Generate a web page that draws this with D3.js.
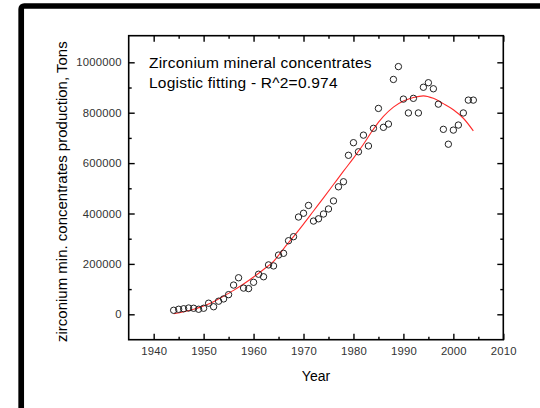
<!DOCTYPE html>
<html>
<head>
<meta charset="utf-8">
<script src="https://cdn.jsdelivr.net/npm/d3@7"></script>
<style>
  html, body { margin: 0; padding: 0; background: #fff; }
  svg { display: block; }
  text { font-family: Arial, "Liberation Sans", sans-serif; }
</style>
</head>
<body>
<svg id="chart" width="540" height="408"></svg>
<script>
// ---- data ----
const years = [1944,1945,1946,1947,1948,1949,1950,1951,1952,1953,1954,1955,1956,1957,1958,1959,1960,1961,1962,1963,1964,
  1965,1966,1967,1968,1969,1970,1971,1972,1973,1974,1975,1976,1977,1978,1979,1980,1981,1982,1983,1984,
  1985,1986,1987,1988,1989,1990,1991,1992,1993,1994,1995,1996,1997,1998,1999,2000,2001,2002,2003,2004];
const production = [16000,20000,22000,25000,24000,20000,24000,44000,30000,52000,61000,78000,116000,145000,104000,102000,127000,159000,149000,196000,192000,
  235000,242000,292000,308000,386000,401000,432000,370000,379000,398000,418000,450000,506000,526000,631000,681000,645000,711000,668000,738000,
  817000,742000,755000,932000,983000,854000,799000,857000,799000,901000,919000,895000,834000,734000,675000,731000,751000,799000,850000,850000];
const fitYears = [1944,1946,1948,1950,1952,1954,1956,1958,1960,1962,1964,1966,1968,1970,1972,1974,1976,1978,1980,1982,1984,1986,1988,1990,1992,1994,1996,1998,2000,2002,2004];
const fitValues = [2000,10000,20000,33000,50000,72000,95000,120000,148000,178000,210000,260000,308000,358000,410000,462000,515000,568000,620000,675000,735000,785000,822000,846000,860000,867000,857000,836000,812000,778000,728000];
const xMajorTicks = [1940,1950,1960,1970,1980,1990,2000,2010];
const xMinorTicks = [1945,1955,1965,1975,1985,1995,2005];
const yMajorTicks = [0,200000,400000,600000,800000,1000000];
const yMinorTicks = [100000,300000,500000,700000,900000];
const titleLines = ["Zirconium mineral concentrates", "Logistic fitting - R^2=0.974"];
const xTitle = "Year";
const yTitle = "zirconium min. concentrates production, Tons";

// ---- layout ----
const svg = d3.select("#chart");
const L = 128.7, R = 503.3, T = 35.7, B = 339.7;
const x = d3.scaleLinear().domain([1935, 2010]).range([L, R]);
const y = d3.scaleLinear().domain([-100800, 1105600]).range([B, T]);

// outer frame
svg.append("rect")
  .attr("x", 21.2).attr("y", 6).attr("width", 700).attr("height", 600)
  .attr("rx", 3)
  .attr("fill", "none").attr("stroke", "#000").attr("stroke-width", 5.7);

function styleAxis(g, fs) {
  g.select(".domain").remove();
  g.selectAll(".tick line").attr("stroke", "#000").attr("stroke-width", 1.4);
  g.selectAll(".tick text").attr("fill", "#333").style("font-size", fs + "px")
    .style("letter-spacing", "0.2px")
    .style("font-family", "Arial, 'Liberation Sans', sans-serif");
}

// bottom axis (major with labels, minor without)
const gxb = svg.append("g").attr("transform", `translate(0,${B})`)
  .call(d3.axisBottom(x).tickValues(xMajorTicks).tickSize(-6).tickPadding(7.5).tickFormat(d3.format("d")));
styleAxis(gxb, 11.3);
const gxbm = svg.append("g").attr("transform", `translate(0,${B})`)
  .call(d3.axisBottom(x).tickValues(xMinorTicks).tickSize(-3).tickFormat(""));
styleAxis(gxbm, 11);
// top axis
const gxt = svg.append("g").attr("transform", `translate(0,${T})`)
  .call(d3.axisTop(x).tickValues(xMajorTicks).tickSize(-6).tickFormat(""));
styleAxis(gxt, 11);
const gxtm = svg.append("g").attr("transform", `translate(0,${T})`)
  .call(d3.axisTop(x).tickValues(xMinorTicks).tickSize(-3).tickFormat(""));
styleAxis(gxtm, 11);
// left axis
const gyl = svg.append("g").attr("transform", `translate(${L},0)`)
  .call(d3.axisLeft(y).tickValues(yMajorTicks).tickSize(-6).tickPadding(7).tickFormat(d3.format("d")));
styleAxis(gyl, 11.3);
const gylm = svg.append("g").attr("transform", `translate(${L},0)`)
  .call(d3.axisLeft(y).tickValues(yMinorTicks).tickSize(-3).tickFormat(""));
styleAxis(gylm, 11);
// right axis
const gyr = svg.append("g").attr("transform", `translate(${R},0)`)
  .call(d3.axisRight(y).tickValues(yMajorTicks).tickSize(-6).tickFormat(""));
styleAxis(gyr, 11);
const gyrm = svg.append("g").attr("transform", `translate(${R},0)`)
  .call(d3.axisRight(y).tickValues(yMinorTicks).tickSize(-3).tickFormat(""));
styleAxis(gyrm, 11);

// plot frame
svg.append("rect")
  .attr("x", L).attr("y", T).attr("width", R - L).attr("height", B - T)
  .attr("fill", "none").attr("stroke", "#000").attr("stroke-width", 1.6);

// fit line
const line = d3.line().x((d, i) => x(fitYears[i])).y(d => y(d)).curve(d3.curveMonotoneX);
svg.append("path").datum(fitValues)
  .attr("d", line).attr("fill", "none").attr("stroke", "#ff2a2a").attr("stroke-width", 1.1);

// data points
svg.append("g").selectAll("circle").data(production).join("circle")
  .attr("cx", (d, i) => x(years[i])).attr("cy", d => y(d)).attr("r", 3.2)
  .attr("fill", "none").attr("stroke", "#222").attr("stroke-width", 1);

// annotation
svg.append("g").selectAll("text").data(titleLines).join("text")
  .attr("x", 149).attr("y", (d, i) => 67.7 + i * 20.5)
  .style("font-size", "15.5px").style("letter-spacing", "0.22px").attr("fill", "#000")
  .text(d => d);

// axis titles
svg.append("text").attr("x", (L + R) / 2).attr("y", 381)
  .attr("text-anchor", "middle").style("font-size", "14px").text(xTitle);
svg.append("text")
  .attr("transform", `translate(67,${(T + B) / 2 + 4}) rotate(-90)`)
  .attr("text-anchor", "middle").style("font-size", "15px").text(yTitle);
</script>
</body>
</html>
